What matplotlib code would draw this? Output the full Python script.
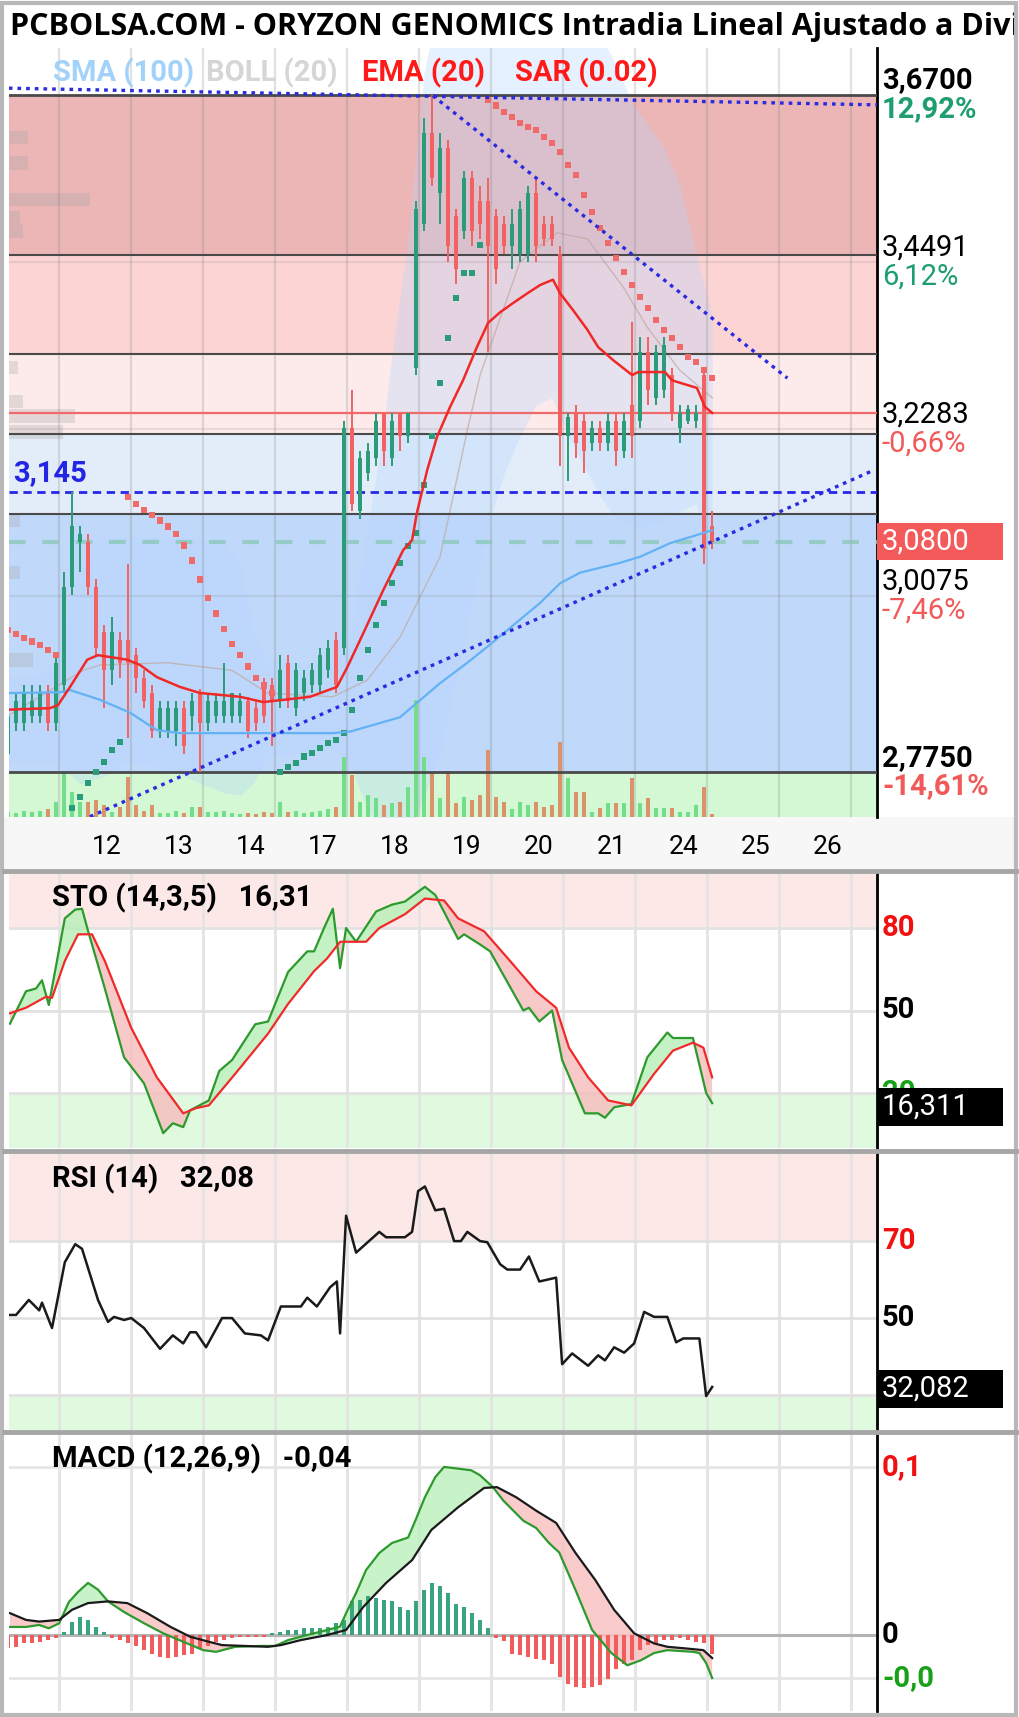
import numpy as np
import matplotlib
matplotlib.use("Agg")
import matplotlib.pyplot as plt
import matplotlib.transforms as mtransforms
from matplotlib.patches import Rectangle
from matplotlib.lines import Line2D

plt.rcParams['font.family'] = ['Roboto', 'DejaVu Sans']

W, H = 1020, 1717

# ---------------- data (hourly candles, index 0 = first candle of day 11) -------------
idx = np.arange(-6, 83)
opens = [2.80, 2.84, 2.84, 2.85, 2.85, 2.88,
         2.84, 2.89, 3.02, 3.08, 3.08, 3.02, 2.96, 2.91, 2.95,
         2.95, 2.93, 2.90, 2.88, 2.83, 2.83, 2.83, 2.86, 2.85,
         2.88, 2.84, 2.85, 2.85, 2.85, 2.85, 2.87, 2.86, 2.89,
         2.89, 2.87, 2.92, 2.86, 2.88, 2.89, 2.89, 2.91, 2.95,
         2.94, 3.23, 3.12, 3.17, 3.19, 3.25, 3.19, 3.25, 3.22,
         3.31, 3.50, 3.62, 3.54, 3.60, 3.51, 3.49, 3.56, 3.53,
         3.53, 3.51, 3.50, 3.47, 3.46, 3.46, 3.54, 3.50, 3.50,
         3.46, 3.22, 3.25, 3.24, 3.21, 3.23, 3.21, 3.24, 3.20,
         3.26, 3.24, 3.33, 3.27, 3.28, 3.30, 3.23, 3.24, 3.24,
         3.30, 3.10]
highs = [2.86, 2.88, 2.89, 2.89, 2.89, 2.89,
         2.93, 3.04, 3.145, 3.10, 3.09, 3.03, 2.97, 2.98, 2.96,
         3.05, 2.94, 2.91, 2.89, 2.87, 2.87, 2.87, 2.87, 2.88,
         2.885, 2.88, 2.88, 2.92, 2.88, 2.88, 2.875, 2.87, 2.90,
         2.90, 2.93, 2.93, 2.92, 2.91, 2.92, 2.94, 2.95, 2.96,
         3.24, 3.28, 3.20, 3.21, 3.25, 3.25, 3.25, 3.25, 3.25,
         3.53, 3.64, 3.67, 3.62, 3.61, 3.52, 3.57, 3.57, 3.55,
         3.56, 3.52, 3.51, 3.52, 3.53, 3.55, 3.56, 3.51, 3.51,
         3.47, 3.25, 3.26, 3.25, 3.24, 3.24, 3.25, 3.25, 3.25,
         3.37, 3.35, 3.35, 3.34, 3.35, 3.31, 3.26, 3.26, 3.26,
         3.31, 3.12]
lows = [2.79, 2.83, 2.83, 2.84, 2.84, 2.83,
        2.83, 2.88, 3.01, 3.04, 3.01, 2.93, 2.86, 2.89, 2.90,
        2.82, 2.88, 2.86, 2.82, 2.82, 2.82, 2.81, 2.80, 2.83,
        2.775, 2.83, 2.84, 2.84, 2.84, 2.84, 2.82, 2.83, 2.84,
        2.81, 2.86, 2.86, 2.85, 2.87, 2.88, 2.88, 2.90, 2.88,
        2.93, 3.12, 3.11, 3.16, 3.18, 3.18, 3.18, 3.20, 3.21,
        3.30, 3.49, 3.55, 3.50, 3.45, 3.42, 3.48, 3.47, 3.48,
        3.33, 3.42, 3.46, 3.44, 3.45, 3.45, 3.45, 3.47, 3.47,
        3.18, 3.16, 3.19, 3.17, 3.20, 3.20, 3.20, 3.18, 3.19,
        3.19, 3.23, 3.26, 3.26, 3.27, 3.24, 3.21, 3.235, 3.23,
        3.05, 3.07]
closes = [2.85, 2.87, 2.88, 2.87, 2.88, 2.84,
          2.92, 3.02, 3.10, 3.09, 3.02, 2.94, 2.91, 2.96, 2.92,
          2.92, 2.90, 2.87, 2.83, 2.86, 2.86, 2.86, 2.81, 2.87,
          2.84, 2.87, 2.87, 2.87, 2.88, 2.87, 2.83, 2.84, 2.85,
          2.87, 2.91, 2.87, 2.91, 2.90, 2.91, 2.93, 2.94, 2.89,
          3.23, 3.13, 3.19, 3.20, 3.24, 3.20, 3.24, 3.22, 3.25,
          3.52, 3.62, 3.56, 3.60, 3.47, 3.44, 3.56, 3.49, 3.50,
          3.47, 3.44, 3.47, 3.50, 3.52, 3.54, 3.47, 3.48, 3.48,
          3.22, 3.245, 3.21, 3.20, 3.23, 3.21, 3.24, 3.20, 3.24,
          3.22, 3.33, 3.28, 3.33, 3.34, 3.25, 3.25, 3.255, 3.25,
          3.07, 3.08]
volume = [5, 4, 6, 5, 6, 8,
          15, 45, 25, 15, 15, 17, 12, 5, 10,
          40, 12, 6, 12, 4, 4, 6, 4, 10,
          10, 5, 5, 6, 4, 3, 4, 3, 5,
          4, 15, 5, 6, 4, 5, 6, 8, 10,
          60, 42, 15, 22, 19, 12, 14, 15, 30,
          117, 60, 44, 19, 44, 14, 20, 17, 22,
          67, 20, 15, 8, 15, 12, 15, 10, 12,
          75, 39, 25, 25, 5, 9, 14, 14, 14,
          39, 14, 19, 9, 9, 9, 5, 5, 12,
          30, 3]
sar = [2.963, 2.958, 2.953, 2.948, 2.943, 2.937,
       2.93, 2.705, 2.728, 2.743, 2.761, 2.776, 2.789, 2.805, 2.815,
       3.139, 3.13, 3.122, 3.115, 3.108, 3.10, 3.09, 3.075, 3.055,
       3.03, 3.005, 2.985, 2.965, 2.945, 2.93, 2.915, 2.90, 2.89,
       2.88, 2.776, 2.782, 2.788, 2.796, 2.801, 2.807, 2.814, 2.818,
       2.827, 2.858, 2.90, 2.937, 2.97, 2.999, 3.025, 3.052, 3.074,
       3.091, 3.155, 3.22, 3.29, 3.349, 3.402, 3.435, 3.435, 3.472,
       3.663, 3.656, 3.648, 3.641, 3.633, 3.628, 3.624, 3.615, 3.607,
       3.595, 3.578, 3.564, 3.538, 3.515, 3.494, 3.474, 3.455, 3.436,
       3.419, 3.403, 3.389, 3.373, 3.36, 3.349, 3.337, 3.324, 3.317,
       3.307, 3.296]

ema_x = [-5.9, -0.75, 0.25, 1.75, 3.9, 5.25, 8.9, 10.5, 12.6, 15.5, 18, 23, 25.9, 30.1,
         31.75, 35.1, 36.4, 38.4, 40.9, 43.4, 44.5, 45.1, 46.4, 47.6, 49.25, 50.9, 52.6,
         54, 55.5, 57.1, 58.9, 60.5, 62.1, 63, 64.6, 66.4, 67.75, 69.6, 72, 72.75, 76.1,
         77, 80.1, 81.1, 82]
ema_y = [2.858, 2.86, 2.864, 2.888, 2.924, 2.93, 2.924, 2.917, 2.901, 2.888, 2.88, 2.875,
         2.868, 2.873, 2.875, 2.888, 2.914, 2.959, 3.016, 3.069, 3.082, 3.118, 3.175, 3.218,
         3.258, 3.294, 3.337, 3.369, 3.383, 3.395, 3.408, 3.419, 3.426, 3.408, 3.386, 3.36,
         3.337, 3.32, 3.30, 3.304, 3.304, 3.293, 3.283, 3.258, 3.25]
sma_x = [-5.9, 0.5, 1.75, 5.5, 9.25, 12.6, 15.5, 26.4, 34.6, 36.75, 43, 45.1, 48, 51.4,
         53.9, 60.5, 63, 65.5, 70.5, 73, 76.75, 79.25, 82]
sma_y = [2.88, 2.881, 2.884, 2.871, 2.854, 2.831, 2.827, 2.827, 2.827, 2.829, 2.848, 2.867,
         2.893, 2.92, 2.941, 2.999, 3.025, 3.039, 3.052, 3.06, 3.078, 3.086, 3.095]
bb_x = [-6, -3, 0, 3, 6, 9, 12, 15, 18, 21, 23, 24.6, 26.4, 30, 34.6, 36.75, 38.9, 40.9,
        42, 44, 46, 48, 50, 52, 54, 56, 58, 60, 62, 64, 66, 68, 70, 72, 74, 76, 78, 80, 81, 82]
bb_upper = [2.90, 2.90, 2.92, 3.05, 3.085, 3.086, 3.086, 3.085, 3.084, 3.082, 3.05, 2.963,
            2.927, 2.92, 2.918, 2.953, 3.094, 3.227, 3.33, 3.48, 3.70, 3.80, 3.85, 3.87,
            3.88, 3.88, 3.87, 3.85, 3.83, 3.80, 3.78, 3.75, 3.71, 3.66, 3.63, 3.60, 3.55,
            3.46, 3.42, 3.38]
bb_lower = [2.79, 2.79, 2.79, 2.76, 2.77, 2.788, 2.785, 2.775, 2.761, 2.748, 2.745, 2.76,
            2.795, 2.80, 2.805, 2.788, 2.726, 2.70, 2.69, 2.70, 2.74, 2.80, 2.90, 3.00,
            3.10, 3.17, 3.22, 3.26, 3.27, 3.22, 3.18, 3.14, 3.11, 3.10, 3.10, 3.11, 3.12,
            3.13, 3.09, 3.05]
bb_mid_x = [-6, 3.4, 5.5, 13.9, 22, 26.4, 34.6, 38.9, 43, 45.5, 48, 51.4, 53, 58, 62.6,
            66.4, 70.9, 73.9, 77.9, 82]
bb_mid_y = [2.85, 2.91, 2.917, 2.92, 2.91, 2.88, 2.875, 2.897, 2.954, 3.007, 3.06, 3.227,
            3.30, 3.45, 3.488, 3.48, 3.416, 3.363, 3.307, 3.27]

# volume-by-price bars at the left edge
vp_price = [3.614, 3.58, 3.532, 3.508, 3.49, 3.31, 3.265, 3.246, 3.225, 3.108, 3.039, 2.924]
vp_len = [2.4, 2.4, 10.1, 1.4, 1.8, 1.1, 1.8, 8.3, 6.8, 1.4, 1.4, 3.0]

# fibonacci retracement between the period high and low
fib_hi, fib_lo = 3.67, 2.775
fib_ratios = [0, 0.236, 0.382, 0.5, 0.618, 1.0]
prev_close = 3.25
last_price = 3.08
level_345 = 3.145

# drawn trend lines (anchor points)
tl_top_x, tl_top_y = [-5.9, 102.6], [3.679, 3.657]
tl_down_x, tl_down_y = [47.1, 91.4], [3.669, 3.296]
tl_up_x, tl_up_y = [3.25, 101.9], [2.712, 3.173]

price_ticks = [3.67, 3.4491, 3.2283, 3.0075, 2.775]
price_tick_txt = ['3,6700', '3,4491', '3,2283', '3,0075', '2,7750']
price_pct_txt = ['12,92%', '6,12%', '-0,66%', '-7,46%', '-14,61%']

days = ['12', '13', '14', '17', '18', '19', '20', '21', '24', '25', '26']
day_sep = [0.375 + 9 * k for k in range(12)]
day_lab = [6.375 + 9 * k for k in range(11)]

# stochastic
k_x = [-5.75, -3.75, -2.5, -1.75, -0.9, 1.1, 2.4, 3.25, 4, 6.1, 8.5, 11, 13.4, 14.6, 15.9,
       16.75, 19.1, 20.4, 22, 24.9, 26.5, 29, 31.4, 32.25, 33.5, 34.6, 35.5, 36.25, 37.5, 40,
       42, 43.6, 46.1, 47.4, 50.25, 51, 53, 54.25, 58.4, 59.1, 60.4, 62, 63.25, 66.1, 67.75,
       68.6, 69.75, 71.9, 73.9, 76.4, 77.1, 79.6, 81.25, 82]
k_y = [45.2, 57, 58, 61, 52, 83.5, 86.7, 87, 79, 58, 33, 23.5, 5.4, 9, 7.6, 13.7, 17.3, 28,
       32, 45, 46, 64, 71.5, 71.5, 80, 87, 65.4, 80, 75, 86, 88.5, 89.6, 95, 92, 76, 77.7,
       74, 71.5, 50, 51, 46, 50, 32, 12.6, 12.6, 11, 14.8, 16, 33, 42, 40, 40, 20, 16.3]
d_x = [-5.75, -3.75, -1.25, -0.5, 1.1, 2.75, 4.5, 6.1, 9.4, 12.6, 15.9, 17.5, 19.1, 22.4,
       26.5, 29, 32.25, 33.9, 35.5, 38.75, 40.4, 43.6, 46.1, 48.5, 50.25, 53.5, 56.75, 60,
       62.5, 64.1, 66.5, 69, 71.9, 74.75, 77.1, 79.6, 80.9, 82]
d_y = [49, 51, 55, 54.6, 68, 77.7, 77.7, 68, 43.7, 25.7, 12.6, 14.5, 15.5, 27, 41.6, 52.4,
       64.3, 69, 75, 75, 80, 85, 90.7, 90, 83.5, 78.8, 68, 57, 51, 36.5, 25.7, 17.3, 15.5,
       27, 35.4, 38.3, 36.5, 25.7]

# RSI
rsi_x = [-5.75, -5, -3.4, -2.1, -1.75, -0.5, 1.1, 2.4, 3.25, 5.25, 6.5, 7.25, 8.5, 9.4, 11,
         13, 14.6, 15.9, 16.75, 17.5, 18.75, 20.75, 22, 23.6, 25.6, 26.5, 28.1, 30.6, 31.4,
         32.6, 34.25, 35.1, 35.5, 36.25, 37.5, 40.4, 41.25, 43.6, 44.5, 45.25, 46.1, 47.4,
         48.5, 49.75, 50.6, 51.4, 53, 53.9, 55.5, 56.4, 58, 59.1, 60.4, 62.5, 63.25, 64.5,
         66.5, 67.75, 68.6, 69.75, 71, 72.25, 73.5, 74.75, 76.4, 77.5, 78.4, 80.4, 81.25, 82]
rsi_y = [50.8, 50.8, 54.7, 52, 54, 47.4, 64.5, 69.2, 68, 54.7, 49, 50.3, 49.5, 50, 47.4, 42,
         45.5, 43.4, 46.3, 46.3, 42.4, 50, 50, 46, 45.5, 44.2, 53, 53, 55.3, 53, 58, 59.5, 46,
         76.6, 67, 72.4, 71, 71, 72.4, 83, 84.2, 78, 78.4, 70, 70, 72.4, 70, 69.7, 64, 62.6,
         62.6, 66, 59.5, 60.5, 38, 40.8, 37.6, 40.3, 39, 42.4, 41, 43.4, 51.6, 50.3, 50.3,
         43.7, 44.7, 44.7, 29.7, 32.08]

# MACD
macd_x = [-5.75, -3.75, -2.1, -0.9, 0.4, 1.6, 2.75, 4, 5.25, 6.5, 8.5, 11, 13.4, 15.9, 18.4,
          20, 22.4, 25.6, 27.4, 29, 31.4, 33.9, 35.5, 36.25, 37.5, 38.75, 40.4, 42, 44, 44.9,
          46.1, 47.4, 48.5, 50.25, 51.9, 53, 54.6, 55.9, 58.4, 60, 61.6, 62.9, 64.9, 67,
          69.4, 71.4, 73.1, 74.75, 76.4, 79.6, 80.4, 81.25, 82]
macd_y = [0.0048, 0.0048, 0.006, 0.004, 0.007, 0.0196, 0.0256, 0.031, 0.027, 0.02, 0.0137,
          0.007, 0.001, -0.004, -0.009, -0.01, -0.007, -0.0065, -0.0065, -0.003, 0.0, 0.003,
          0.005, 0.013, 0.025, 0.0387, 0.0488, 0.0548, 0.058, 0.068, 0.082, 0.094, 0.1, 0.099,
          0.098, 0.095, 0.088, 0.08, 0.068, 0.0637, 0.0548, 0.049, 0.027, 0.003, -0.0107,
          -0.018, -0.015, -0.0107, -0.009, -0.01, -0.0107, -0.0167, -0.0256]
sig_x = [-5.75, -3.75, -2.1, 0.4, 2, 4, 6.5, 8.9, 11.4, 14.25, 16.75, 19.1, 20.75, 26.5,
         28.1, 30.6, 33.9, 36.25, 38.4, 41.25, 44.5, 46.9, 50.25, 53.5, 55.1, 57.5, 60, 62.5,
         64.9, 67.4, 69.75, 72.25, 74.75, 76.4, 78.75, 80.9, 82]
sig_y = [0.013, 0.009, 0.008, 0.009, 0.015, 0.019, 0.02, 0.019, 0.013, 0.005, -0.001, -0.004,
         -0.006, -0.007, -0.006, -0.003, 0.0, 0.003, 0.0167, 0.031, 0.0446, 0.0625, 0.076,
         0.0875, 0.088, 0.082, 0.074, 0.0667, 0.049, 0.0327, 0.015, 0.001, -0.005, -0.007,
         -0.008, -0.009, -0.0137]
hist = [-0.008, -0.007, -0.005, -0.005, -0.004, -0.003,
        -0.002, 0.002, 0.008, 0.0107, 0.009, 0.005, 0.002, -0.002, -0.003,
        -0.005, -0.0067, -0.009, -0.011, -0.013, -0.0137, -0.013, -0.012, -0.011,
        -0.0085, -0.0067, -0.004, -0.003, -0.002, -0.001, -0.001, -0.001, -0.001,
        0.001, 0.002, 0.003, 0.003, 0.004, 0.004, 0.004, 0.005, 0.007,
        0.009, 0.02, 0.021, 0.023, 0.022, 0.021, 0.02, 0.0167, 0.015,
        0.02, 0.0267, 0.031, 0.029, 0.025, 0.0185, 0.0167, 0.013, 0.009,
        0.004, -0.002, -0.0033, -0.011, -0.012, -0.013, -0.014, -0.015, -0.017,
        -0.025, -0.029, -0.031, -0.0317, -0.031, -0.03, -0.026, -0.02, -0.017,
        -0.015, -0.009, -0.006, -0.005, -0.003, -0.003, -0.002, -0.003, -0.004,
        -0.005, -0.011]

# ---------------------------------------------------------------------------------------
fig = plt.figure(figsize=(W / 100, H / 100), dpi=100)
fig.patch.set_facecolor('white')

XL = (-5.875, 102.6)


def place(x0, y0, x1, y1):
    return fig.add_axes([x0 / W, 1 - y1 / H, (x1 - x0) / W, (y1 - y0) / H])


def frame(a):
    for s in ('top', 'left', 'bottom'):
        a.spines[s].set_visible(False)
    a.spines['right'].set_color('black')
    a.spines['right'].set_linewidth(2)
    a.set_yticks([])
    a.set_xlim(*XL)


def rlabel(a, y, txt, color='black', weight='normal', dy=0.0):
    a.text(1 + 5 / 868, y + dy, txt, transform=a.get_yaxis_transform(), color=color,
           fontsize=21, fontweight=weight, va='center', ha='left', clip_on=False, zorder=12)


# title bar
tax = place(4, 4, 1016, 47)
tax.axis('off')
tax.text(0.006, 0.47, 'PCBOLSA.COM - ORYZON GENOMICS Intradia Lineal Ajustado a Dividendos',
         transform=tax.transAxes, fontsize=22.0, fontweight='bold',
         family=['Open Sans', 'DejaVu Sans'], va='center', ha='left', clip_on=True)

# date strip
fig.add_artist(Rectangle((4 / W, 1 - 869 / H), 1012 / W, 52 / H, transform=fig.transFigure,
                         color='#f7f7f7', lw=0, zorder=0))

# ----------------------------- main price panel ----------------------------------------
ax = place(9, 48, 877, 817)
frame(ax)
ax.set_ylim(2.7162, 3.7321)
levels = [fib_hi - r * (fib_hi - fib_lo) for r in fib_ratios]
band_cols = ['#ecb6b6', '#fcd4d4', '#fdeaea', '#e3edf9', '#c0d8fa']
for hi, lo, col in zip(levels[:-1], levels[1:], band_cols):
    ax.axhspan(lo, hi, color=col, lw=0, zorder=0)
ax.axhspan(2.0, fib_lo, color='#d4f7d4', lw=0, zorder=0)

ax.barh(vp_price, vp_len, height=0.018, left=XL[0], color='#a8a8a8', alpha=0.3, lw=0, zorder=0.5)
ax.fill_between(bb_x, bb_lower, bb_upper, color='#b4d6ff', alpha=0.32, lw=0, zorder=1)
ax.plot(bb_mid_x, bb_mid_y, color='#c0a8a0', lw=1, alpha=0.7, zorder=1.2)

for g in day_sep:
    ax.axvline(g, color='#7a7a7a', alpha=0.22, lw=1.6, zorder=1.5)
for v in price_ticks[1:4]:
    ax.axhline(v, color='#8a8a8a', alpha=0.18, lw=1.5, zorder=1.5)

vol_tr = mtransforms.blended_transform_factory(ax.transData, ax.transAxes)
o, h, l, c = (np.array(v) for v in (opens, highs, lows, closes))
up = c >= o
vcol = np.where(up, '#72de8c', '#d9926a')
ax.bar(idx, np.array(volume) / 768.0, bottom=0, width=0.5, color=vcol, transform=vol_tr, zorder=2)

for lv in levels:
    ax.axhline(lv, color='#4a4a4a', lw=2 if lv in (fib_hi, fib_lo) else 1.5, zorder=3)
ax.axhline(prev_close, color='#f06a6a', lw=1.6, zorder=3)
ax.axhline(last_price, color='#8cc8bb', lw=3, ls=(0, (4, 4)), alpha=0.8, zorder=3)
ax.axhline(level_345, color='#2626e6', lw=2, ls=(0, (3, 2)), zorder=3.2)

ccol = np.where(up, '#2b9c7a', '#f26262')
ax.vlines(idx, l, h, colors=ccol, lw=1.4, zorder=5)
ax.bar(idx, np.maximum(np.abs(c - o), 0.004), bottom=np.minimum(o, c), width=0.55, color=ccol,
       lw=0, zorder=5)

sar_a = np.array(sar)
scol = np.where(sar_a > c, '#f06a6a', '#2b9c7a')
ax.scatter(idx, sar_a, marker='s', s=20, c=scol, lw=0, zorder=6)

ax.plot(sma_x, sma_y, color='#62b2f4', lw=1.6, zorder=6.5)
ax.plot(ema_x, ema_y, color='#f02828', lw=1.8, zorder=7)

dots = (0, (1.1, 1.5))
for tx, ty in ((tl_top_x, tl_top_y), (tl_down_x, tl_down_y), (tl_up_x, tl_up_y)):
    ax.plot(tx, ty, color='#2a2ae0', lw=2.4, ls=dots, zorder=8)

ax.text(-5.35, 3.171, '3,145', color='#2424e4', fontsize=21, fontweight='bold', va='center',
        zorder=9)

ax.set_xticks(day_lab)
ax.set_xticklabels(days)
ax.tick_params(axis='x', length=0, pad=13, labelsize=19)

legend = [('SMA (100)', '#a2d2fa', 53), ('BOLL (20)', '#d6d6d6', 206),
          ('EMA (20)', '#ff1a1a', 362), ('SAR (0.02)', '#ff1a1a', 515)]
for txt, col, xp in legend:
    fig.text(xp / W, 1 - 73 / H, txt, color=col, fontsize=21, fontweight='bold', va='center')

for v, t, p in zip(price_ticks, price_tick_txt, price_pct_txt):
    bold = 'bold' if v in (fib_hi, fib_lo) else 'normal'
    pcol = '#1e9e6e' if not p.startswith('-') else '#f25a5a'
    rlabel(ax, v, t, 'black', bold, dy=0.0195)
    rlabel(ax, v, p, pcol, bold, dy=-0.0185)

ax.add_patch(Rectangle((1.0, last_price - 0.024), 126 / 868, 0.048, transform=ax.get_yaxis_transform(),
                       color='#f55a5a', lw=0, clip_on=False, zorder=10))
rlabel(ax, last_price, '3,0800', 'white')


# ----------------------------- indicator panels -----------------------------------------
def panel(y0, y1, lo, hi):
    a = place(9, y0, 877, y1)
    frame(a)
    a.set_ylim(lo, hi)
    a.set_xticks([])
    for g in day_sep:
        a.axvline(g, color='#e4e4e4', lw=2, zorder=0.5)
    return a


def value_box(a, v, txt, half):
    a.add_patch(Rectangle((1.0, v - half), 126 / 868, 2 * half, transform=a.get_yaxis_transform(),
                          color='black', lw=0, clip_on=False, zorder=10))
    rlabel(a, v, txt, 'white')


# STO
a2 = panel(873, 1148, 0, 100)
a2.axhspan(80, 100, color='#fde8e8', lw=0, zorder=0)
a2.axhspan(0, 20, color='#dffadf', lw=0, zorder=0)
for v in (80, 50, 20):
    a2.axhline(v, color='#e2e2e2', lw=2, zorder=0.6)
xx = np.linspace(-5.75, 82, 1200)
kk, dd = np.interp(xx, k_x, k_y), np.interp(xx, d_x, d_y)
a2.fill_between(xx, kk, dd, where=kk >= dd, color='#b6efb6', alpha=0.8, lw=0, interpolate=True)
a2.fill_between(xx, kk, dd, where=kk < dd, color='#f6bcbc', alpha=0.8, lw=0, interpolate=True)
a2.plot(k_x, k_y, color='#2c9a2c', lw=1.6, zorder=3)
a2.plot(d_x, d_y, color='#f02a2a', lw=1.6, zorder=3)
rlabel(a2, 80, '80', '#f01010', 'bold')
rlabel(a2, 50, '50', 'black', 'bold')
a2.text(1 + 5 / 868, 20, '20', transform=a2.get_yaxis_transform(), color='#18a018',
        fontsize=21, fontweight='bold', va='center', ha='left', clip_on=False, zorder=9)
value_box(a2, 14.9, '16,311', 6.9)
fig.text(52 / W, 1 - 898 / H, 'STO (14,3,5)   16,31', fontsize=21, fontweight='bold', va='center')

# RSI
a3 = panel(1153, 1430, 20.9, 92.9)
a3.axhspan(70, 100, color='#fde8e8', lw=0, zorder=0)
a3.axhspan(0, 30, color='#dffadf', lw=0, zorder=0)
for v in (70, 50, 30):
    a3.axhline(v, color='#e2e2e2', lw=2, zorder=0.6)
a3.plot(rsi_x, rsi_y, color='#1a1a1a', lw=1.8, zorder=3)
rlabel(a3, 70, '70', '#f01010', 'bold')
rlabel(a3, 50, '50', 'black', 'bold')
value_box(a3, 31.6, '32,082', 4.9)
fig.text(52 / W, 1 - 1179 / H, 'RSI (14)   32,08', fontsize=21, fontweight='bold', va='center')

# MACD
a4 = panel(1434, 1711, -0.0452, 0.1196)
for v in (0.1, -0.0255):
    a4.axhline(v, color='#e6e6e6', lw=2, zorder=0.6)
a4.axhline(0, color='#b4b4b4', lw=2.2, zorder=0.7)
xm = np.linspace(-5.75, 82, 1200)
mm, ss = np.interp(xm, macd_x, macd_y), np.interp(xm, sig_x, sig_y)
a4.fill_between(xm, mm, ss, where=mm >= ss, color='#bff0bf', alpha=0.85, lw=0, interpolate=True)
a4.fill_between(xm, mm, ss, where=mm < ss, color='#f8c2c2', alpha=0.85, lw=0, interpolate=True)
hh = np.array(hist)
a4.bar(idx, hh, width=0.5, color=np.where(hh >= 0, '#3aa47e', '#f25c5c'), lw=0, zorder=2)
a4.plot(macd_x, macd_y, color='#2c9a2c', lw=1.6, zorder=3)
a4.plot(sig_x, sig_y, color='#1a1a1a', lw=1.6, zorder=3)
rlabel(a4, 0.1, '0,1', '#f01010', 'bold')
rlabel(a4, 0.0, '0', 'black', 'bold')
rlabel(a4, -0.0255, '-0,0', '#18a018', 'bold')
fig.text(52 / W, 1 - 1459 / H, 'MACD (12,26,9)   -0,04', fontsize=21, fontweight='bold', va='center')

# separators and outer frame
for yy in (871, 1150.5, 1432):
    fig.add_artist(Line2D([4 / W, 1016 / W], [1 - yy / H] * 2, color='#a6a6a6', lw=3.5,
                          transform=fig.transFigure))
fig.add_artist(Rectangle((2 / W, 2 / H), 1014 / W, 1712 / H, transform=fig.transFigure,
                         fill=False, ec='#b8b8b8', lw=3))

fig.savefig('out.png', dpi=100, facecolor='white')
